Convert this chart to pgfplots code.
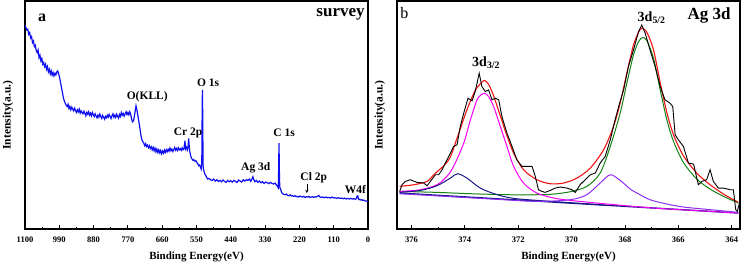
\documentclass[border=0pt]{standalone}
\usepackage{pgfplots}
\pgfplotsset{compat=1.18}
\usepackage{fontspec}
\setmainfont{Liberation Serif}
\definecolor{surveyblue}{RGB}{15,15,240}
\definecolor{fitred}{RGB}{240,20,20}
\definecolor{fitgreen}{RGB}{20,130,20}
\definecolor{fitmag}{RGB}{245,0,245}
\definecolor{fitnavy}{RGB}{25,25,135}
\definecolor{fitviolet}{RGB}{145,45,245}
\pgfplotsset{
  xpsaxis/.style={
    scale only axis, width=343pt, height=228pt,
    anchor=south west,
    x dir=reverse, ymin=0, ymax=685,
    ytick=\empty, xtick pos=left,
    tick align=inside, major tick length=4pt, minor tick length=2pt,
    minor x tick num=1,
    axis line style={line width=1.1pt}, every tick/.style={black, line width=0.8pt},
    /pgf/number format/assume math mode=true,
    /pgf/number format/1000 sep={},
    tick label style={font=\bfseries\fontsize{8.5}{9}\selectfont},
    xticklabel style={yshift=-4pt},
    label style={font=\bfseries\fontsize{11}{13}\selectfont},
    xlabel={Binding Energy(eV)},
    ylabel={Intensity(a.u.)},
    xlabel style={at={(axis description cs:0.5,-0.122)}, anchor=center},
    ylabel style={at={(axis description cs:-0.05,0.5)}, anchor=center, font=\bfseries\fontsize{11.5}{13}\selectfont},
    clip mode=individual,
  }
}
\begin{document}
\begin{tikzpicture}
\useasboundingbox (0,0) rectangle (742pt,265pt);
% ---------------- panel a ----------------
\begin{axis}[xpsaxis, at={(25pt,36pt)}, xmin=0, xmax=1100,
  xtick={0,110,220,330,440,550,660,770,880,990,1100}]
\addplot[surveyblue, line width=1.2pt] coordinates {
(1100,613)(1097,605)(1094,598)(1091,600)(1088,585)(1085,590)(1082,574)(1079,578)(1076,560)(1073,565)
(1070,548)(1067,552)(1064,536)(1061,530)(1058,538)(1055,515)(1052,522)(1049,505)(1046,512)(1043,495)
(1040,500)(1037,488)(1034,495)(1031,480)(1028,488)(1025,472)(1022,480)(1019,466)(1016,475)(1013,462)
(1010,470)(1007,460)(1004,468)(1001,463)(998,472)(995,475)(992,466)(989,455)(986,440)(983,425)
(980,410)(977,395)(974,385)(971,378)(968,372)(965,368)(962,375)(959,362)(956,368)(953,358)
(950,366)(947,360)(944,355)(941,363)(938,356)(935,350)(932,358)(929,352)(926,360)(923,348)
(920,355)(917,350)(914,346)(911,354)(908,348)(905,340)(902,350)(899,345)(896,352)(893,342)
(890,348)(887,340)(884,350)(881,344)(878,338)(875,346)(872,340)(869,334)(866,342)(863,336)
(860,345)(857,338)(854,332)(851,341)(848,336)(845,330)(842,338)(839,334)(836,342)(833,336)
(830,344)(827,338)(824,332)(821,340)(818,346)(815,336)(812,342)(809,335)(806,345)(803,339)
(800,333)(797,344)(794,338)(791,350)(788,342)(785,347)(782,339)(779,345)(776,352)(773,344)
(770,350)(767,343)(764,352)(761,345)(758,330)(755,322)(752,325)(749,340)(746,358)(744,370)
(742,362)(740,352)(737,335)(734,318)(731,300)(728,280)(725,268)(722,262)(719,258)(716,250)
(713,256)(710,248)(707,252)(704,244)(701,250)(698,242)(695,247)(692,238)(689,245)(686,235)
(683,243)(680,232)(677,240)(674,230)(671,238)(668,229)(665,236)(662,226)(659,234)(656,228)
(653,237)(650,230)(647,238)(644,232)(641,240)(638,234)(635,243)(632,235)(629,240)(626,233)
(623,238)(620,245)(617,237)(614,242)(611,236)(608,244)(605,238)(602,241)(599,236)(596,244)
(593,238)(590,242)(587,265)(585,240)(582,246)(579,238)(577,248)(575,272)(573,245)(571,230)
(569,222)(567,214)(564,210)(561,206)(558,208)(555,204)(552,205)(549,200)(546,196)(543,190)
(540,192)(537,185)(535,180)(533,200)(532,330)(531,418)(530,340)(529,195)(528,182)(527,178)
(525,170)(523,165)(520,160)(517,154)(514,150)(510,152)(505,148)(500,146)(495,150)(490,144)
(485,148)(480,143)(475,146)(470,142)(465,147)(460,143)(455,140)(450,146)(445,142)(440,145)
(435,141)(430,146)(425,143)(420,140)(415,147)(410,144)(405,141)(400,148)(395,144)(390,148)
(385,146)(380,150)(376,143)(372,150)(369,157)(366,148)(363,142)(358,146)(353,140)(348,144)
(343,139)(338,142)(333,137)(328,141)(323,139)(318,136)(313,140)(308,137)(303,135)(298,138)
(294,132)(290,128)(288,124)(287,150)(286,220)(285.4,258)(285,230)(284,160)(283,128)(282,122)
(280,120)(278,112)(276,108)(273,106)(270,104)(266,103)(262,105)(258,101)(254,100)(250,103)
(246,99)(242,100)(238,98)(234,100)(230,97)(226,98)(222,96)(218,99)(214,97)(210,96)
(206,98)(202,95)(198,97)(194,96)(190,98)(186,95)(182,96)(178,97)(174,95)(170,97)
(166,96)(162,98)(158,101)(155,97)(150,95)(145,96)(140,94)(135,96)(130,94)(125,95)
(120,93)(115,96)(110,93)(105,94)(100,92)(95,94)(90,92)(85,93)(80,91)(75,93)
(70,90)(65,92)(60,90)(55,92)(50,90)(45,91)(40,89)(37,92)(35,99)(33,100)
(31,92)(29,88)(26,89)(23,87)(20,88)(17,86)(14,87)(11,85)(8,84)(5,84)(2,83)(0,82)
};
\node[font=\bfseries\fontsize{16}{17}\selectfont] at (axis cs:1045,634) {a};
\node[font=\bfseries\fontsize{17}{18}\selectfont] at (axis cs:88,646) {survey};
\begin{scope}[every node/.style={font=\bfseries\fontsize{11.5}{13}\selectfont}]
\node at (axis cs:708,398) {O(KLL)};
\node at (axis cs:513,440) {O 1s};
\node at (axis cs:577,290) {Cr 2p};
\node at (axis cs:269,288) {C 1s};
\node at (axis cs:360,183) {Ag 3d};
\node at (axis cs:174,153) {Cl 2p};
\node at (axis cs:40,120) {W4f};
\end{scope}
\draw[-stealth, line width=0.5pt] (axis cs:196,135) -- (axis cs:196,108);
\end{axis}
% ---------------- panel b ----------------
\begin{axis}[xpsaxis, at={(397pt,36pt)}, xmin=363.69, xmax=376.54,
  xtick={364,366,368,370,372,374,376}]
% baseline
\addplot[fitnavy, line width=1.4pt] coordinates {(376.44,108)(363.75,48)};
% green component
\addplot[fitgreen, line width=1pt, smooth] coordinates {
(376.44,113)(375.04,110)(373.79,106)(372.42,103)(371.24,103)(370.67,105)(370.05,112)(369.43,128)
(368.93,168)(368.55,248)(368.18,348)(367.93,438)(367.68,523)(367.49,563)(367.34,575)(367.18,566)
(366.93,513)(366.68,418)(366.43,328)(366.18,263)(365.81,200)(365.31,150)(364.81,120)(364.31,98)(363.75,78)};
% magenta component
\addplot[fitmag, line width=1pt, smooth] coordinates {
(376.44,113)(375.66,118)(375.04,133)(374.67,158)(374.42,188)(374.04,258)(373.79,328)(373.54,388)
(373.36,405)(373.26,408)(373.11,398)(372.92,368)(372.67,308)(372.42,248)(372.17,188)(371.80,138)
(371.30,108)(370.67,93)(370.05,86)(368.80,76)(366.93,63)(365.06,54)(363.75,48)};
% navy component
\addplot[fitnavy, line width=1pt, smooth] coordinates {
(376.44,110)(375.66,116)(375.04,130)(374.54,153)(374.27,166)(373.92,153)(373.42,123)(372.79,103)
(372.17,92)(371.30,86)(370.05,79)(368.80,72)};
% violet component
\addplot[fitviolet, line width=1pt, smooth] coordinates {
(376.44,106)(373.00,90)(371.30,83)(370.05,88)(369.43,103)(368.93,138)(368.55,163)(368.18,146)
(367.80,120)(367.55,108)(367.06,88)(366.43,75)(365.81,66)(365.06,60)(363.75,50)};
% red envelope
\addplot[fitred, line width=1.1pt, smooth] coordinates {
(376.44,128)(375.91,133)(375.41,143)(375.16,163)(374.60,208)(374.29,273)(373.92,358)(373.61,416)
(373.36,441)(373.26,446)(373.11,435)(372.92,400)(372.67,340)(372.42,280)(372.17,228)(371.80,178)
(371.30,148)(370.80,136)(370.30,138)(369.80,153)(369.30,183)(368.80,238)(368.43,308)(368.18,378)
(367.93,468)(367.68,553)(367.49,591)(367.37,603)(367.18,591)(366.93,538)(366.68,440)(366.43,350)
(366.18,283)(365.81,220)(365.31,168)(364.81,133)(364.31,105)(363.75,80)};
% measured data
\addplot[black, line width=0.9pt] coordinates {
(376.44,113)(376.35,133)(376.23,143)(376.04,148)(375.79,140)(375.54,138)(375.41,130)(375.29,143)
(375.10,163)(374.98,163)(374.85,178)(374.73,198)(374.54,228)(374.42,248)(374.29,253)(374.17,308)
(374.04,348)(373.88,393)(373.73,385)(373.61,413)(373.46,468)(373.36,428)(373.23,413)(373.11,418)
(372.98,388)(372.86,393)(372.73,388)(372.61,338)(372.42,288)(372.23,248)(372.05,208)(371.86,188)
(371.67,188)(371.48,188)(371.36,158)(371.24,118)(371.11,113)(370.99,110)(370.80,116)(370.61,123)
(370.42,126)(370.18,123)(369.99,118)(369.86,110)(369.68,133)(369.49,148)(369.30,163)(369.11,168)
(368.93,198)(368.74,218)(368.55,268)(368.37,328)(368.20,378)(368.05,418)(367.87,488)(367.68,538)
(367.49,593)(367.37,613)(367.24,588)(367.06,538)(366.87,488)(366.68,428)(366.50,388)(366.31,378)
(366.21,368)(366.12,283)(366.00,268)(365.81,248)(365.62,198)(365.43,195)(365.25,133)(365.12,143)
(364.94,148)(364.81,178)(364.69,143)(364.50,123)(364.31,123)(364.06,118)(363.94,118)(363.85,58)
(363.79,53)(363.71,78)};
\node[font=\fontsize{16}{17}\selectfont] at (axis cs:376.26,648) {b};
\node[font=\bfseries\fontsize{17}{18}\selectfont] at (axis cs:364.85,643) {Ag 3d};
\node[font=\bfseries\fontsize{14}{15}\selectfont] at (axis cs:373.2,500) {3d\textsubscript{3/2}};
\node[font=\bfseries\fontsize{14}{15}\selectfont] at (axis cs:367.0,636) {3d\textsubscript{5/2}};
\end{axis}
\end{tikzpicture}
\end{document}
